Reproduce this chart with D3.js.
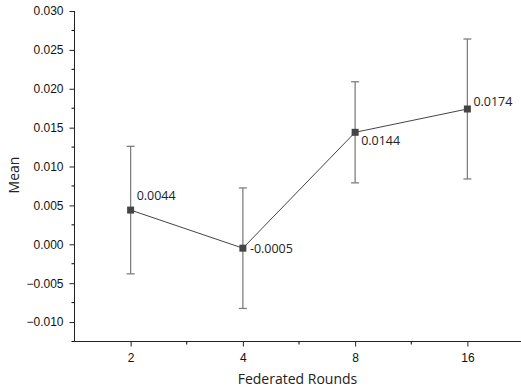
<!DOCTYPE html>
<html>
<head>
<meta charset="utf-8">
<script src="https://cdn.jsdelivr.net/npm/d3@7"></script>
<style>
  body{margin:0;background:#fff;}
  svg{display:block;}
</style>
</head>
<body>
<div id="chart"></div>
<script>
// 数据
const rounds=["2","4","8","16"];
const means=[0.0044,-0.0005,0.0144,0.0174];
const errs=[0.0082,0.00775,0.0065,0.009];
const yTicks=[-0.010,-0.005,0.000,0.005,0.010,0.015,0.020,0.025,0.030];

(function(){
  const W=521,H=389;
  const svg=d3.select('#chart').append('svg').attr('width',W).attr('height',H);

  const x=d3.scaleLinear().domain([-0.5,3.5]).range([74.5,523.5]);
  const y=d3.scaleLinear().domain([-0.0125,0.030]).range([341.5,11]);
  const tickFont='"Liberation Sans", Arial, sans-serif';
  const labFont='"Open Sans", "Noto Sans", sans-serif';

  // y axis
  const yAx=svg.append('g').attr('transform','translate(74.5,0)')
    .call(d3.axisLeft(y).tickValues(yTicks).tickFormat(d3.format('.3f')).tickSize(5).tickSizeOuter(0));
  yAx.select('.domain').attr('d',`M0,${y(0.030)}V${y(-0.0125)}`);
  yAx.selectAll('.tick text').attr('font-family',tickFont).attr('font-size',12).attr('fill','#111').attr('x',-11)
    .text(d=>d3.format('.3f')(d).replace('-','\u2212'));
  const yMinor=d3.range(-0.0125,0.0301,0.005);
  yAx.selectAll('line.minor').data(yMinor).enter().append('line').attr('class','minor')
    .attr('x1',0).attr('x2',-3).attr('y1',d=>y(d)).attr('y2',d=>y(d)).attr('stroke','#000');

  // x axis
  const xAx=svg.append('g').attr('transform','translate(0,341.5)')
    .call(d3.axisBottom(x).tickValues([0,1,2,3]).tickFormat(i=>rounds[i]).tickSize(5).tickSizeOuter(0));
  xAx.select('.domain').attr('d',`M${x(-0.5)},0H${x(3.5)}`);
  xAx.selectAll('.tick text').attr('font-family',tickFont).attr('font-size',12).attr('fill','#111').attr('dy','1.0em');
  xAx.selectAll('line.minor').data([0.5,1.5,2.5]).enter().append('line').attr('class','minor')
    .attr('x1',d=>x(d)).attr('x2',d=>x(d)).attr('y1',0).attr('y2',3).attr('stroke','#000');
  svg.selectAll('.domain,.tick line').attr('stroke','#222');

  // titles
  svg.append('text').attr('x',W/2+37).attr('y',384).attr('text-anchor','middle')
    .attr('font-family',labFont).attr('font-size',14).attr('fill','#222').text('Federated Rounds');
  svg.append('text').attr('transform','translate(19,175) rotate(-90)').attr('text-anchor','middle')
    .attr('font-family',labFont).attr('font-size',14).attr('fill','#222').text('Mean');

  const data=rounds.map((r,i)=>({i,m:means[i],e:errs[i]}));

  // error bars
  const eb=svg.append('g').attr('stroke','#7f7f7f').attr('stroke-width',1.3);
  data.forEach(d=>{
    const cx=x(d.i);
    eb.append('line').attr('x1',cx).attr('x2',cx).attr('y1',y(d.m+d.e)).attr('y2',y(d.m-d.e));
    eb.append('line').attr('x1',cx-4).attr('x2',cx+4).attr('y1',y(d.m+d.e)).attr('y2',y(d.m+d.e));
    eb.append('line').attr('x1',cx-4).attr('x2',cx+4).attr('y1',y(d.m-d.e)).attr('y2',y(d.m-d.e));
  });

  // line
  svg.append('path').datum(data)
    .attr('d',d3.line().x(d=>x(d.i)).y(d=>y(d.m)))
    .attr('fill','none').attr('stroke','#444').attr('stroke-width',1);

  // markers
  svg.selectAll('rect.pt').data(data).enter().append('rect').attr('class','pt')
    .attr('x',d=>x(d.i)-3.5).attr('y',d=>y(d.m)-3.5).attr('width',7).attr('height',7).attr('fill','#454545');

  // value labels
  const off=[[6,-10],[7,4.5],[6,12.5],[6,-2.5]];
  svg.selectAll('text.val').data(data).enter().append('text').attr('class','val')
    .attr('x',d=>x(d.i)+off[d.i][0]).attr('y',d=>y(d.m)+off[d.i][1])
    .attr('font-family',labFont).attr('font-size',12.5).attr('fill','#222')
    .text(d=>d.m.toFixed(4));
})();
</script>
</body>
</html>
